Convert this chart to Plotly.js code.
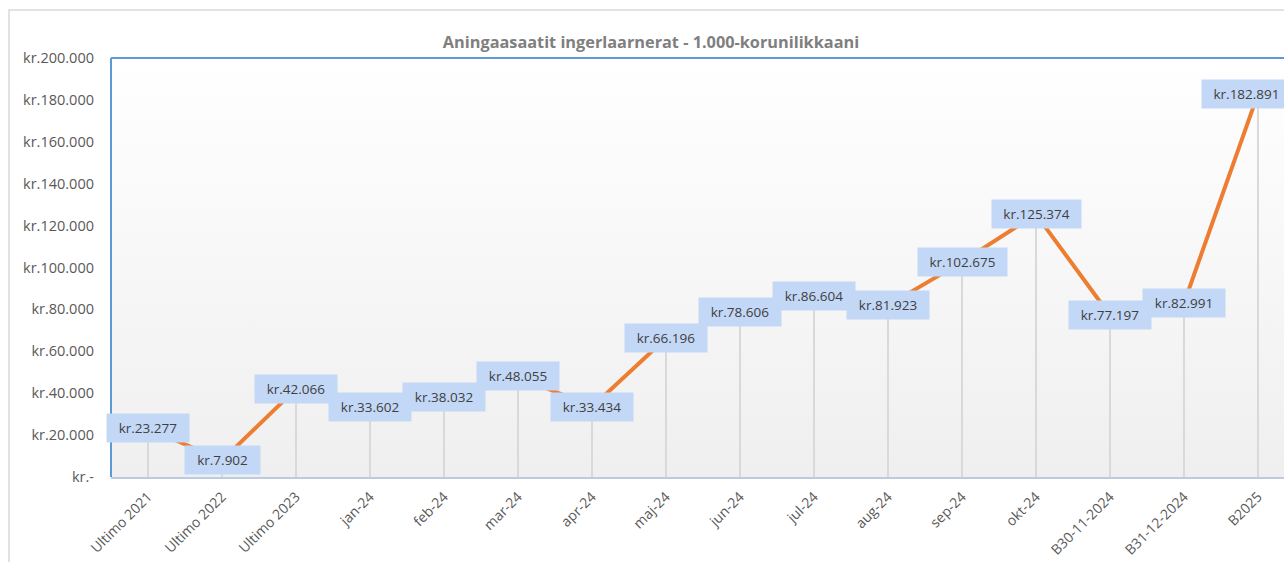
<!DOCTYPE html>
<html>
<head>
<meta charset="utf-8">
<script src="https://cdn.plot.ly/plotly-3.0.1.min.js"></script>
<style>
html,body{margin:0;padding:0;overflow:hidden;background:#fff;}
#chart{width:1310px;height:562px;}
</style>
</head>
<body>
<div id="chart"></div>
<script>
const categories = ["Ultimo 2021","Ultimo 2022","Ultimo 2023","jan-24","feb-24","mar-24","apr-24","maj-24","jun-24","jul-24","aug-24","sep-24","okt-24","B30-11-2024","B31-12-2024","B2025"];
const values = [23277, 7902, 42066, 33602, 38032, 48055, 33434, 66196, 78606, 86604, 81923, 102675, 125374, 77197, 82991, 182891];
const tickValues = [0,20000,40000,60000,80000,100000,120000,140000,160000,180000,200000];
const tickLabels = ["kr.-","kr.20.000","kr.40.000","kr.60.000","kr.80.000","kr.100.000","kr.120.000","kr.140.000","kr.160.000","kr.180.000","kr.200.000"];
const titleText = "Aningaasaatit ingerlaarnerat - 1.000-korunilikkaani";

function fmt(v){
  return "kr." + v.toString().replace(/\B(?=(\d{3})+(?!\d))/g, ".");
}

const FONT = "Open Sans, Noto Sans, sans-serif";

const dropTrace = {
  x: categories, y: values, type: "scatter", mode: "markers",
  marker: {size: 1, opacity: 0},
  error_y: {type: "data", symmetric: false, array: values.map(() => 0), arrayminus: values, width: 0, color: "#d9d9d9", thickness: 2},
  hoverinfo: "skip", showlegend: false
};
const lineTrace = {
  x: categories, y: values, type: "scatter", mode: "lines",
  line: {color: "#ed7d31", width: 4},
  showlegend: false
};

const annotations = categories.map((c, i) => ({
  x: c, y: values[i], xref: "x", yref: "y",
  text: fmt(values[i]), showarrow: false,
  font: {family: FONT, size: 13.5, color: "#404040"},
  bgcolor: "#c3d8f6", borderpad: 6,
  width: fmt(values[i]).length * 7 + 7, height: 16,
  xshift: i === categories.length - 1 ? -12 : 0
}));

const bgSvg = "data:image/svg+xml;utf8," + encodeURIComponent(
  '<svg xmlns="http://www.w3.org/2000/svg" width="10" height="100" preserveAspectRatio="none"><defs><linearGradient id="g" x1="0" y1="0" x2="0" y2="1"><stop offset="0" stop-color="#ffffff"/><stop offset="1" stop-color="#efefef"/></linearGradient></defs><rect width="10" height="100" fill="url(#g)"/></svg>');

const layout = {
  width: 1310, height: 562,
  margin: {l: 111, r: 15, t: 58, b: 85},
  paper_bgcolor: "#ffffff", plot_bgcolor: "rgba(0,0,0,0)",
  title: {text: "<b>" + titleText + "</b>", font: {family: FONT, size: 16.3, color: "#7f7f7f"},
    xref: "container", x: 651/1310, xanchor: "center", yref: "container", y: 1 - 42/562, yanchor: "middle"},
  xaxis: {type: "category", range: [-0.5, categories.length - 0.5], tickangle: -45, showgrid: false, zeroline: false,
    showline: true, linecolor: "#bccbe0", linewidth: 2, ticks: "", ticklabelstandoff: 4,
    tickfont: {family: FONT, size: 14, color: "#595959"}, fixedrange: true},
  yaxis: {range: [0, 200000], tickvals: tickValues, ticktext: tickLabels, showgrid: false, zeroline: false,
    showline: false, ticks: "", ticklabelstandoff: 16,
    tickfont: {family: FONT, size: 14.5, color: "#595959"}, fixedrange: true},
  images: [{source: bgSvg, xref: "paper", yref: "paper", x: 0, y: 1, sizex: 1, sizey: 1,
    sizing: "stretch", xanchor: "left", yanchor: "top", layer: "below"}],
  shapes: [
    {type: "rect", xref: "paper", yref: "paper", x0: -102/1184, x1: 1.2, y0: -0.5, y1: 1 + 48/419,
      line: {color: "#d9d9d9", width: 1.5}, fillcolor: "rgba(0,0,0,0)", layer: "below"},
    {type: "line", xref: "paper", yref: "paper", x0: 0, x1: 0, y0: 0, y1: 1, line: {color: "#5b9bd5", width: 2}},
    {type: "line", xref: "paper", yref: "paper", x0: 0, x1: 1, y0: 1, y1: 1, line: {color: "#5b9bd5", width: 2}},
    {type: "line", xref: "paper", yref: "paper", x0: 1, x1: 1, y0: 0, y1: 1, line: {color: "#5b9bd5", width: 2}}
  ],
  annotations: annotations,
  showlegend: false
};

Plotly.newPlot("chart", [dropTrace, lineTrace], layout, {displayModeBar: false, staticPlot: true});
</script>
</body>
</html>
